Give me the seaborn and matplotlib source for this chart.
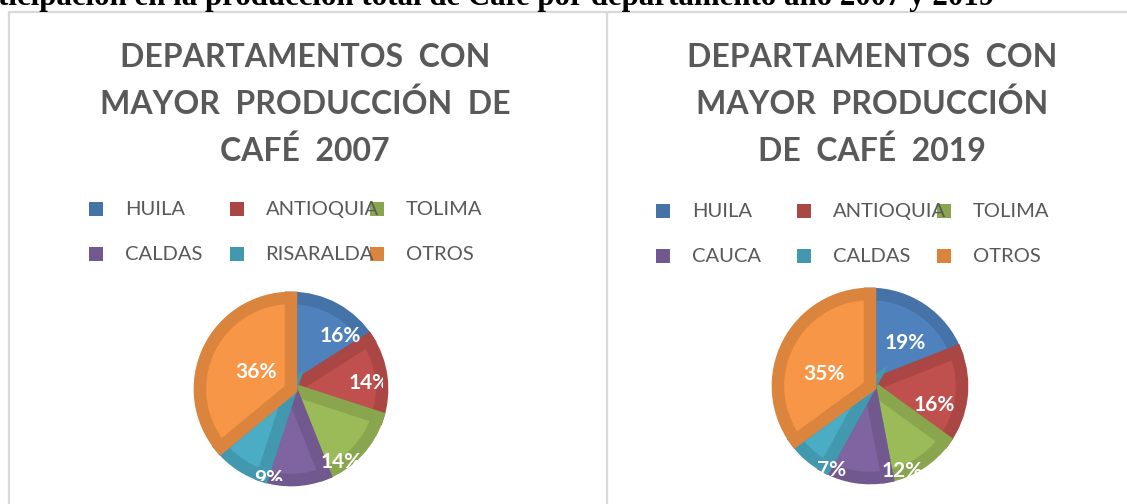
import numpy as np
import matplotlib
matplotlib.use("Agg")
import matplotlib.pyplot as plt
from matplotlib.patches import Rectangle
import seaborn as sns

# Data
departamentos_2007 = ["HUILA", "ANTIOQUIA", "TOLIMA", "CALDAS", "RISARALDA", "OTROS"]
participacion_2007 = [16, 14, 14, 11, 9, 36]
departamentos_2019 = ["HUILA", "ANTIOQUIA", "TOLIMA", "CAUCA", "CALDAS", "OTROS"]
participacion_2019 = [19, 16, 12, 11, 7, 35]

titulo_2007 = "DEPARTAMENTOS  CON\nMAYOR  PRODUCCIÓN  DE\nCAFÉ  2007"
titulo_2019 = "DEPARTAMENTOS  CON\nMAYOR  PRODUCCIÓN\nDE  CAFÉ  2019"
encabezado = "ticipación en la producción total de Café por departamento año 2007 y 2019"

# Office style colours: lighter fill, darker rim
relleno = sns.color_palette(["#4F81BD", "#C0504D", "#9BBB59", "#8064A2", "#4BACC6", "#F79646"])
borde = sns.color_palette(["#4572A7", "#AA4643", "#89A54E", "#71588F", "#4198AF", "#DB843D"])

# Label placement (radial fraction, angle shift in degrees)
etiquetas_2007 = [(0.80, -14), (0.86, -3), (0.97, -12), (1.35, 0), (1.02, 20), (0.43, 0)]
etiquetas_2019 = [(0.60, -5), (0.73, -9), (0.99, -12), (1.35, 0), (1.0, 17), (0.52, 12)]

sns.set_theme(style="white")
plt.rcParams["font.family"] = ["Lato", "DejaVu Sans"]

W, H = 1127, 504
fig = plt.figure(figsize=(W / 100, H / 100), dpi=100)
fig.patch.set_facecolor("white")


def px(x, y):
    # image pixel (top-left origin) -> figure fraction
    return x / W, 1 - y / H


# chart frames
gris = "#d9d9d9"
fig.add_artist(plt.Line2D([8.5 / W, 8.5 / W], [0, 1 - 11.5 / H], color=gris, lw=1.6))
fig.add_artist(plt.Line2D([8.5 / W, 1], [1 - 11.5 / H, 1 - 11.5 / H], color=gris, lw=1.6))
fig.add_artist(plt.Line2D([606.5 / W, 606.5 / W], [0, 1 - 11.5 / H], color=gris, lw=1.6))

# document heading, cut by the picture border
fig.text(-0.002, 1 - 5 / H, encabezado, ha="left", va="baseline", fontsize=22.2,
         fontweight="bold", family=["Liberation Serif"], color="black")


def dibujar(cx, cy, r, valores, nombres, titulo, tx, etiquetas, leg_x, leg_y):
    fig.text(*px(tx, 104.5), titulo, ha="center", va="center", fontsize=23,
             fontweight="bold", color="#595959", linespacing=1.66)

    # legend, 3 columns with fixed width like the spreadsheet one
    for i, nombre in enumerate(nombres):
        col, fila = i % 3, i // 3
        x0 = leg_x + col * 140.5
        y0 = leg_y + fila * 45
        fx, fy = px(x0, y0 + 7)
        fig.add_artist(Rectangle((fx, fy), 14 / W, 14 / H, transform=fig.transFigure,
                                 facecolor=borde[i], edgecolor="none"))
        fig.text(*px(x0 + 36, y0), nombre, ha="left", va="center", fontsize=14.5,
                 color="#595959")

    ax = fig.add_axes([(cx - r) / W, (H - cy - r) / H, 2 * r / W, 2 * r / H])
    wedges, _ = ax.pie(valores, colors=relleno, startangle=90, counterclock=False,
                       wedgeprops=dict(linewidth=0))
    for w, c in zip(wedges, borde):
        w.set_edgecolor(c)
        w.set_linewidth(9)
        w.set_clip_path(w)
    total = sum(valores)
    for w, v, (dist, giro) in zip(wedges, valores, etiquetas):
        ang = np.deg2rad((w.theta1 + w.theta2) / 2 + giro)
        ax.text(dist * np.cos(ang), dist * np.sin(ang), f"{round(100 * v / total)}%",
                ha="center", va="center", fontsize=15, fontweight="bold",
                color="white", clip_on=True)
    ax.set_xlim(-1.01, 1.01)
    ax.set_ylim(-1.01, 1.01)
    ax.set_aspect("equal")
    ax.axis("off")
    ax.patch.set_visible(False)


dibujar(291, 389, 92, participacion_2007, departamentos_2007, titulo_2007, 305,
        etiquetas_2007, 89, 209)
dibujar(870, 386, 93, participacion_2019, departamentos_2019, titulo_2019, 872,
        etiquetas_2019, 656, 211)

fig.savefig("out.png", dpi=100, facecolor="white")
